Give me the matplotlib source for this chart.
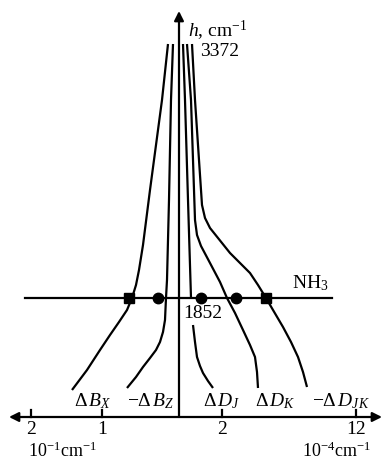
import matplotlib
matplotlib.use("Agg")
import matplotlib.pyplot as plt

plt.rcParams['font.family'] = ['Liberation Serif', 'DejaVu Serif']
plt.rcParams['mathtext.fontset'] = 'custom'
plt.rcParams['mathtext.rm'] = 'Liberation Serif'
plt.rcParams['mathtext.it'] = 'Liberation Serif:italic'

# schematic curves (x, h-position in figure pixels, y down)
bx_x = [168, 162, 150, 143, 139, 136, 132, 127, 119, 110, 100, 87, 72]
bx_y = [44, 100, 190, 245, 270, 285, 298, 310, 322, 335, 350, 370, 390]
bz_x = [173, 171, 169, 167, 166, 165, 163, 160, 156, 150, 143, 136, 127]
bz_y = [44, 100, 200, 280, 298, 320, 332, 342, 350, 358, 367, 377, 388]
dj_up_x = [183, 185, 188, 191]
dj_up_y = [44, 100, 200, 298]
dj_lo_x = [193, 195, 197, 200, 203, 208, 213]
dj_lo_y = [325, 342, 357, 366, 373, 381, 388]
dk_x = [187, 191, 195, 197, 201, 210, 220, 227, 235, 243, 250, 255, 257, 258]
dk_y = [44, 100, 220, 235, 246, 263, 282, 298, 313, 330, 345, 357, 372, 388]
djk_x = [192, 195, 202, 205, 210, 218, 230, 250, 258, 266, 273, 283, 291, 298, 303, 307]
djk_y = [44, 100, 205, 218, 228, 238, 253, 273, 285, 298, 310, 327, 342, 357, 372, 387]

square_x = [129, 266]
circle_x = [158, 201, 236]
nh3_y = 298

tick_x = [31, 102, 222, 356]
tick_labels = ['2', '1', '2', '12']

curve_labels = [r'$\Delta\,B_X$', r'$-\Delta\,B_Z$', r'$\Delta\,D_J$', r'$\Delta\,D_K$', r'$-\Delta\,D_{JK}$']
curve_label_x = [93, 151, 222, 275, 341]

fig = plt.figure(figsize=(3.9, 4.63), dpi=100)
ax = fig.add_axes([0, 0, 1, 1])
ax.set_xlim(0, 390)
ax.set_ylim(463, 0)
ax.axis('off')

lw = 1.6
for xs, ys in [(bx_x, bx_y), (bz_x, bz_y), (dj_up_x, dj_up_y), (dj_lo_x, dj_lo_y),
               (dk_x, dk_y), (djk_x, djk_y)]:
    ax.plot(xs, ys, color='black', lw=lw, solid_capstyle='butt', solid_joinstyle='round')

# NH3 line
ax.plot([25, 332], [nh3_y, nh3_y], color='black', lw=lw)
ax.plot(square_x, [nh3_y] * len(square_x), 's', color='black', ms=6.5, ls='none')
ax.plot(circle_x, [nh3_y] * len(circle_x), 'o', color='black', ms=7.5, ls='none')
ax.text(292, 283, r'NH$_3$', fontsize=14, ha='left', va='center')
ax.text(183, 314, '1852', fontsize=14, ha='left', va='center')

# axes
ax.annotate('', xy=(9, 417), xytext=(382, 417),
            arrowprops=dict(arrowstyle='<|-|>', color='black', lw=lw,
                            mutation_scale=14, shrinkA=0, shrinkB=0))
ax.annotate('', xy=(179, 11), xytext=(179, 417),
            arrowprops=dict(arrowstyle='-|>', color='black', lw=lw,
                            mutation_scale=14, shrinkA=0, shrinkB=0))
for tx, tl in zip(tick_x, tick_labels):
    ax.plot([tx, tx], [410, 417], color='black', lw=lw)
    ax.text(tx, 429, tl, fontsize=14, ha='center', va='center')

ax.text(28, 451, r'10$^{-1}$cm$^{-1}$', fontsize=13, ha='left', va='center')
ax.text(302, 451, r'10$^{-4}$cm$^{-1}$', fontsize=13, ha='left', va='center')

ax.text(188, 31, r'$h$, cm$^{-1}$', fontsize=14, ha='left', va='center')
ax.text(200, 52, '3372', fontsize=14, ha='left', va='center')

for lx, lt in zip(curve_label_x, curve_labels):
    ax.text(lx, 401, lt, fontsize=14, ha='center', va='center')

fig.savefig('out.png', dpi=100)
